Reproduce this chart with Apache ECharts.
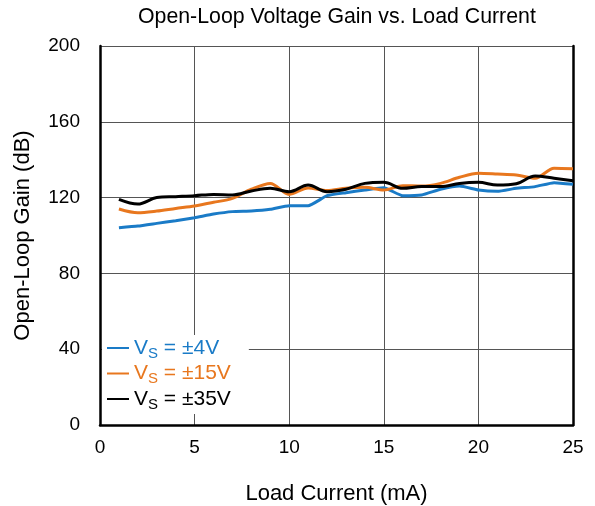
<!DOCTYPE html>
<html>
<head>
<meta charset="utf-8">
<script src="https://cdn.jsdelivr.net/npm/echarts@6/dist/echarts.min.js"></script>
<style>
  html, body { margin: 0; padding: 0; background: #fff; }
  #chart { width: 595px; height: 506px; }
</style>
</head>
<body>
<div id="chart"></div>
<script>
// 负载电流 (mA)
const loadCurrent = [1, 2, 3, 4, 5, 6, 7, 8, 9, 10, 11, 12, 13, 14, 15, 16, 17, 18, 19, 20, 21, 22, 23, 24, 25];

// 开环增益 (dB)
const gain4V  = [104.1, 105, 106.4, 107.8, 109.4, 111.3, 112.6, 112.9, 113.8, 115.7, 115.7, 121, 122.6, 124, 125.2, 121, 121.4, 124.4, 126.1, 124, 123.3, 124.9, 125.8, 127.9, 127];
const gain15V = [114, 112, 112.9, 114.3, 115.6, 117.5, 119.6, 124.4, 127.5, 121.7, 125.1, 123.7, 124.9, 125.4, 124, 126.3, 126.1, 127.5, 130.7, 132.8, 132.4, 131.9, 130.2, 135.5, 135.2];
const gain35V = [119.1, 116.6, 120, 120.5, 121, 121.7, 121.4, 123.5, 124.9, 123.1, 126.6, 123.1, 124.4, 127.5, 128.1, 124.9, 125.8, 125.8, 127.5, 128.1, 126.6, 127.3, 131.4, 130.2, 128.9];

const seriesNames = ['vs4', 'vs15', 'vs35'];
const legendText = {
    vs4: '{b0|V}{s0|S}{b0| = ±4V}',
    vs15: '{b1|V}{s1|S}{b1| = ±15V}',
    vs35: '{b2|V}{s2|S}{b2| = ±35V}'
};
const colors = ['#1a7bc7', '#e8771e', '#000000'];
const FONT = 'Liberation Sans, Arial';

const chart = echarts.init(document.getElementById('chart'));

const toPairs = (arr) => loadCurrent.map((x, i) => [x, arr[i]]);

// 图例富文本样式：主文字 + 下标 S
const richStyles = {};
colors.forEach((c, i) => {
    richStyles['b' + i] = { color: c, fontSize: 21, fontFamily: FONT, lineHeight: 26 };
    richStyles['s' + i] = { color: c, fontSize: 15, fontFamily: FONT, lineHeight: 26, verticalAlign: 'bottom', padding: [9, 0, 0, 0] };
});

chart.setOption({
    animation: false,
    title: {
        text: 'Open-Loop Voltage Gain vs. Load Current',
        left: 133,
        top: 2,
        textStyle: { fontFamily: FONT, fontSize: 21.3, fontWeight: 'normal', color: '#000' }
    },
    grid: { left: 100, right: 22, top: 46, bottom: 81, outerBoundsMode: 'none', containLabel: false },
    legend: {
        data: seriesNames,
        orient: 'vertical',
        left: 102,
        top: 335,
        itemWidth: 22,
        itemHeight: 2,
        itemGap: 1.5,
        padding: [2, 18, 2, 5],
        backgroundColor: '#fff',
        icon: 'rect',
        formatter: (name) => legendText[name],
        textStyle: { rich: richStyles }
    },
    xAxis: {
        type: 'value',
        min: 0,
        max: 25,
        interval: 5,
        name: 'Load Current (mA)',
        nameLocation: 'middle',
        nameGap: 58,
        nameTextStyle: { fontFamily: FONT, fontSize: 22, color: '#000' },
        axisLine: { show: true, lineStyle: { color: '#000', width: 2.5 } },
        axisTick: { show: false },
        axisLabel: { fontFamily: FONT, fontSize: 19, color: '#000', margin: 13 },
        splitLine: { show: true, lineStyle: { color: '#555', width: 1 } }
    },
    yAxis: [
        {
            type: 'value',
            min: 0,
            max: 200,
            interval: 40,
            name: 'Open-Loop Gain (dB)',
            nameLocation: 'middle',
            nameGap: 66,
            nameTextStyle: { fontFamily: FONT, fontSize: 22, color: '#000' },
            axisLine: { show: true, lineStyle: { color: '#000', width: 2.5 } },
            axisTick: { show: false },
            axisLabel: { fontFamily: FONT, fontSize: 19, color: '#000', margin: 20 },
            splitLine: { show: true, lineStyle: { color: '#555', width: 1 } }
        },
        {
            // 右侧边框
            type: 'value',
            position: 'right',
            min: 0,
            max: 200,
            interval: 40,
            axisLine: { show: true, lineStyle: { color: '#000', width: 2.5 } },
            axisTick: { show: false },
            axisLabel: { show: false },
            splitLine: { show: false }
        }
    ],
    series: [
        {
            name: 'vs4', type: 'line', data: toPairs(gain4V),
            showSymbol: false, smooth: 0.15,
            lineStyle: { color: colors[0], width: 3 }, itemStyle: { color: colors[0] }
        },
        {
            name: 'vs15', type: 'line', data: toPairs(gain15V),
            showSymbol: false, smooth: 0.3,
            lineStyle: { color: colors[1], width: 3 }, itemStyle: { color: colors[1] }
        },
        {
            name: 'vs35', type: 'line', data: toPairs(gain35V),
            showSymbol: false, smooth: 0.35,
            lineStyle: { color: colors[2], width: 3 }, itemStyle: { color: colors[2] }
        }
    ]
});
</script>
</body>
</html>
